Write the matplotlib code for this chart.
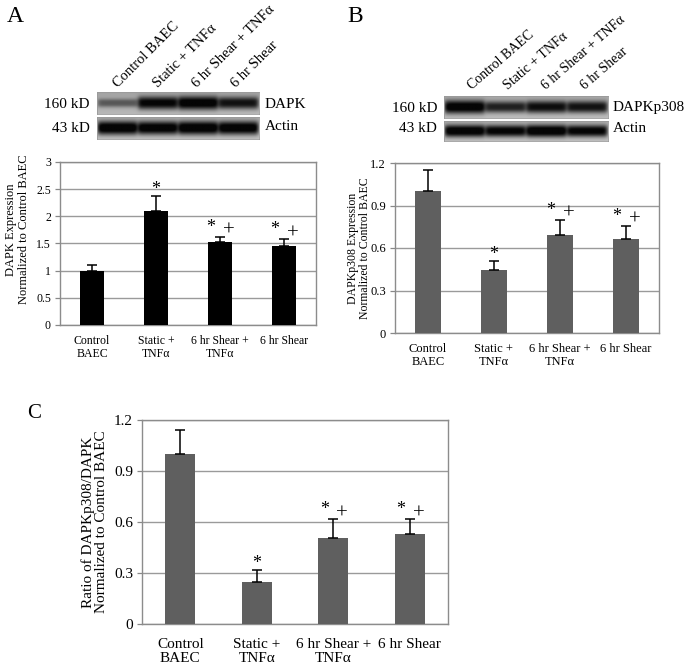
import numpy as np
import matplotlib
matplotlib.use("Agg")
import matplotlib.pyplot as plt

# ---------------- data ----------------
categories = ["Control\nBAEC", "Static +\nTNF\u03b1", "6 hr Shear +\nTNF\u03b1", "6 hr Shear"]
lane_labels = ["Control BAEC", "Static + TNF\u03b1", "6 hr Shear + TNF\u03b1", "6 hr Shear"]

dapk_values = [1.00, 2.10, 1.52, 1.46]
dapk_errors = [0.10, 0.27, 0.10, 0.12]
dapk_marks = ["", "*", "*+", "*+"]

p308_values = [1.00, 0.445, 0.69, 0.665]
p308_errors = [0.15, 0.065, 0.11, 0.09]
p308_marks = ["", "*", "*+", "*+"]

ratio_values = [1.00, 0.25, 0.505, 0.53]
ratio_errors = [0.14, 0.065, 0.11, 0.085]
ratio_marks = ["", "*", "*+", "*+"]

yticks_A = [0, 0.5, 1, 1.5, 2, 2.5, 3]
yticklabels_A = ["0", "0.5", "1", "1.5", "2", "2.5", "3"]
yticks_BC = [0, 0.3, 0.6, 0.9, 1.2]
yticklabels_BC = ["0", "0.3", "0.6", "0.9", "1.2"]

# blot band densities per lane (0 = no band, 1 = saturated)
blotA_dapk = [0.45, 0.90, 0.97, 0.82]
blotA_actin = [1.0, 0.97, 1.0, 0.98]
blotB_p308 = [0.97, 0.75, 0.85, 0.82]
blotB_actin = [0.98, 0.92, 1.0, 0.92]

# ---------------- figure ----------------
W, H = 685, 670
plt.rcParams["font.family"] = ["Liberation Serif", "DejaVu Serif"]
fig = plt.figure(figsize=(W / 100, H / 100), dpi=100)
fig.patch.set_facecolor("white")


def px_axes(x0, y0, x1, y1):
    return fig.add_axes([x0 / W, 1 - y1 / H, (x1 - x0) / W, (y1 - y0) / H])


def ftext(x, y, s, **kw):
    fig.text(x / W, 1 - y / H, s, **kw)


def strip_image(levels, bg, nx=240, ny=40, thick=0.30):
    x = np.linspace(0, 1, nx)
    y = np.linspace(0, 1, ny)[:, None]
    n = len(levels)
    img = np.full((ny, nx), bg) + 0.08 * (y - 0.5)
    for i, lev in enumerate(levels):
        c = (i + 0.5) / n
        hw = 0.5 / n * 0.97
        mask = 0.5 * (np.tanh((x - (c - hw)) / 0.015) - np.tanh((x - (c + hw)) / 0.015))
        th = thick * (0.35 + 0.7 * lev)
        prof = np.exp(-(np.abs(y - 0.5) / th) ** 2.6)
        img = img - lev * bg * 1.1 * mask[None, :] * prof
    return np.clip(img, 0.02, 1)


def draw_strip(x0, y0, x1, y1, levels, bg):
    ax = px_axes(x0, y0, x1, y1)
    ax.imshow(strip_image(levels, bg), cmap="gray", vmin=0, vmax=1,
              aspect="auto", interpolation="bilinear")
    ax.set_xticks([])
    ax.set_yticks([])
    for s in ax.spines.values():
        s.set_color("#9a9a9a")
        s.set_linewidth(0.6)
    return ax


def bar_panel(box, values, errors, marks, color, ylim, yticks, yticklabels,
              ylabel, tick_fs, cat_fs, lab_fs, lab_pad, mark_off, label_xy=None,
              labelpad=4):
    ax = px_axes(*box)
    x = np.arange(len(values))
    ax.bar(x, values, width=0.39, color=color, zorder=3)
    ax.errorbar(x, values, yerr=[np.zeros(len(values)), errors], fmt="none",
                ecolor="black", elinewidth=1.1, capsize=3.5, capthick=1.1, zorder=4)
    ax.set_xlim(-0.5, len(values) - 0.5)
    ax.set_ylim(*ylim)
    ax.set_yticks(yticks)
    ax.set_yticklabels(yticklabels, fontsize=tick_fs)
    ax.set_xticks(x)
    ax.set_xticklabels(categories, fontsize=cat_fs, linespacing=1.12, va="top")
    ax.tick_params(axis="x", length=0, pad=lab_pad)
    ax.tick_params(axis="y", length=3.5, width=0.9, color="#888888", pad=3)
    ax.yaxis.grid(True, color="#9a9a9a", linewidth=1.0, zorder=0)
    ax.set_axisbelow(True)
    for s in ax.spines.values():
        s.set_color("#8c8c8c")
        s.set_linewidth(1.0)
    ax.set_ylabel(ylabel, fontsize=lab_fs, linespacing=1.05, labelpad=labelpad)
    if label_xy is not None:
        ax.yaxis.set_label_coords(*label_xy)
    for xi, v, e, m in zip(x, values, errors, marks):
        top = v + e
        if m == "*":
            ax.annotate("*", (xi, top), xytext=(0, mark_off - 6), textcoords="offset pixels",
                        ha="center", va="bottom", fontsize=13)
        elif m == "*+":
            ax.annotate("*", (xi, top), xytext=(-9, mark_off - 3), textcoords="offset pixels",
                        ha="center", va="bottom", fontsize=13)
            ax.annotate("+", (xi, top), xytext=(9, mark_off - 8), textcoords="offset pixels",
                        ha="center", va="bottom", fontsize=15)
    return ax


# ---------------- Panel A ----------------
ftext(7, 16, "A", fontsize=17, va="center", ha="left")
for lx, lab in zip([120, 160, 199, 238], lane_labels):
    ftext(lx, 90, lab, fontsize=10.5, rotation=45, rotation_mode="anchor",
          ha="left", va="bottom")
draw_strip(97, 92, 259, 114, blotA_dapk, 0.68)
draw_strip(97, 117, 259, 139, blotA_actin, 0.72)
ftext(90, 104, "160 kD", fontsize=11, ha="right", va="center")
ftext(90, 128, "43 kD", fontsize=11, ha="right", va="center")
ftext(265, 104, "DAPK", fontsize=11, ha="left", va="center")
ftext(265, 127, "Actin", fontsize=11, ha="left", va="center")
bar_panel((60, 162, 316, 325), dapk_values, dapk_errors, dapk_marks, "black",
          (0, 3), yticks_A, yticklabels_A,
          "DAPK Expression\nNormalized to Control BAEC", 8.5, 8.5, 9.0, 7, 4,
          label_xy=(-0.118, 0.585))

# ---------------- Panel B ----------------
ftext(347, 16, "B", fontsize=17, va="center", ha="left")
for lx, lab in zip([474, 510, 548, 587], lane_labels):
    ftext(lx, 92, lab, fontsize=10, rotation=41, rotation_mode="anchor",
          ha="left", va="bottom")
draw_strip(444, 96, 608, 118, blotB_p308, 0.70)
draw_strip(444, 121, 608, 141, blotB_actin, 0.72)
ftext(437, 108, "160 kD", fontsize=11, ha="right", va="center")
ftext(437, 129, "43 kD", fontsize=11, ha="right", va="center")
ftext(613, 107, "DAPKp308", fontsize=11, ha="left", va="center")
ftext(613, 128, "Actin", fontsize=11, ha="left", va="center")
bar_panel((395, 163, 659, 333), p308_values, p308_errors, p308_marks, "#5f5f5f",
          (0, 1.2), yticks_BC, yticklabels_BC,
          "DAPKp308 Expression\nNormalized to Control BAEC", 9, 9, 8.5, 7, 4,
          label_xy=(-0.09, 0.5))

# ---------------- Panel C ----------------
ftext(27, 414, "C", fontsize=15, va="center", ha="left")
bar_panel((142, 420, 448, 624), ratio_values, ratio_errors, ratio_marks, "#5f5f5f",
          (0, 1.2), yticks_BC, yticklabels_BC,
          "Ratio of DAPKp308/DAPK\nNormalized to Control BAEC", 11, 11, 11, 10, 4)

fig.savefig("out.png", dpi=100, facecolor="white")
